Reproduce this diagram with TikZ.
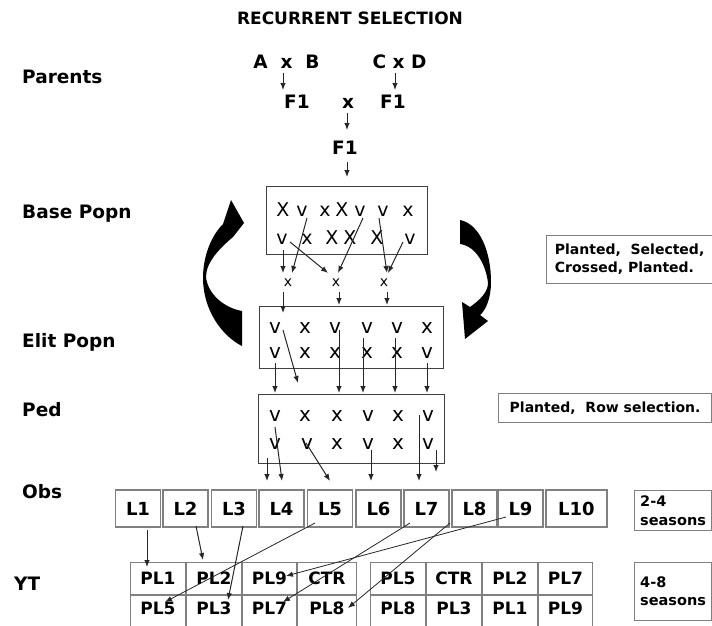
\documentclass[tikz,border=0pt]{standalone}
\usepackage{fontspec}
\setmainfont{DejaVu Sans}
\usetikzlibrary{arrows.meta}
\begin{document}
\begin{tikzpicture}[x=1pt,y=-1pt,
  lbl/.style={font=\fontsize{18.5}{20}\selectfont\bfseries, inner sep=0pt, text height=13.5pt, text depth=0pt},
  ttl/.style={font=\fontsize{17}{19}\selectfont\bfseries, inner sep=0pt, text height=12.4pt, text depth=0pt},
  ltrA/.style={font=\fontsize{19}{21}\selectfont, inner sep=0pt, anchor=base},
  ltrB/.style={font=\fontsize{20}{22}\selectfont, inner sep=0pt, anchor=base},
  smallx/.style={font=\fontsize{14}{16}\selectfont, inner sep=0pt, text height=7.7pt, text depth=0pt},
  popbox/.style={draw=black!75, line width=1pt, rectangle, inner sep=0pt},
  lbox/.style={draw=black!50, line width=1.2pt, rectangle, inner sep=0pt, minimum height=37pt, minimum width=45pt,
     font=\fontsize{18}{20}\selectfont\bfseries, text height=13pt, text depth=0pt},
  plcell/.style={draw=black!50, line width=1.2pt, rectangle, inner sep=0pt,
     font=\fontsize{17}{19}\selectfont\bfseries, text height=12.4pt, text depth=0pt},
  notebox/.style={draw=black!50, line width=1.2pt, rectangle, inner sep=0pt, align=left,
     font=\fontsize{14}{18}\selectfont\bfseries},
  conn/.style={-{Latex[length=7pt,width=5.5pt]}, line width=1pt, black!85},
  thin/.style={-{Latex[length=7pt,width=5.5pt]}, line width=0.8pt, black!85}
]
\useasboundingbox (0,0) rectangle (712,626);
\clip (0,0) rectangle (712,626);

% title and left labels
\node[ttl] (title) at (350,18) {RECURRENT SELECTION};
\node[lbl,anchor=west] (lpar) at (22,77) {Parents};
\node[lbl,anchor=west] (lbase) at (22,212) {Base Popn};
\node[lbl,anchor=west] (lelit) at (22,341) {Elit Popn};
\node[lbl,anchor=west] (lped) at (22,410) {Ped};
\node[lbl,anchor=west] (lobs) at (22,492) {Obs};
\node[lbl,anchor=west] (lyt) at (14,584) {YT};

% parents
\node[lbl] (ab) at (286.5,62) {A\ \ x\ \ B};
\node[lbl] (cd) at (399.5,62) {C x D};
\node[lbl] (f1a) at (297,102) {F1};
\node[lbl] (xx) at (348,102) {x};
\node[lbl] (f1b) at (393,102) {F1};
\node[lbl] (f1c) at (345,148) {F1};

% population boxes
\node[popbox, minimum width=161pt, minimum height=68pt] (base) at (346.5,220) {};
\node[popbox, minimum width=184pt, minimum height=62pt] (elit) at (351,337) {};
\node[popbox, minimum width=186pt, minimum height=69pt] (ped) at (351,428.5) {};

% base letters
\node[ltrA] (ba1) at (283,216) {X};
\node[ltrA] (ba2) at (302,216) {v};
\node[ltrA] (ba3) at (325,216) {x};
\node[ltrA] (ba4) at (342,216) {X};
\node[ltrA] (ba5) at (360,216) {v};
\node[ltrA] (ba6) at (383,216) {v};
\node[ltrA] (ba7) at (408,216) {x};
\node[ltrA] (bb1) at (282,244) {v};
\node[ltrA] (bb2) at (307,244) {x};
\node[ltrA] (bb3) at (332,244) {X};
\node[ltrA] (bb4) at (350,244) {X};
\node[ltrA] (bb5) at (377,244) {X};
\node[ltrA] (bb6) at (410,244) {v};

% small crosses
\node[smallx] (c1) at (288,283) {x};
\node[smallx] (c2) at (336,283) {x};
\node[smallx] (c3) at (384,283) {x};

% elit letters
\node[ltrB] (ea1) at (275,333) {v};
\node[ltrB] (ea2) at (305,333) {x};
\node[ltrB] (ea3) at (335,333) {v};
\node[ltrB] (ea4) at (367,333) {v};
\node[ltrB] (ea5) at (397,333) {v};
\node[ltrB] (ea6) at (427,333) {x};
\node[ltrB] (eb1) at (275,358) {v};
\node[ltrB] (eb2) at (305,358) {x};
\node[ltrB] (eb3) at (335,358) {x};
\node[ltrB] (eb4) at (367,358) {x};
\node[ltrB] (eb5) at (397,358) {x};
\node[ltrB] (eb6) at (427,358) {v};

% ped letters
\node[ltrB] (pa1) at (275,421) {v};
\node[ltrB] (pa2) at (305,421) {x};
\node[ltrB] (pa3) at (337,421) {x};
\node[ltrB] (pa4) at (368,421) {v};
\node[ltrB] (pa5) at (398,421) {x};
\node[ltrB] (pa6) at (428,421) {v};
\node[ltrB] (pb1) at (275,449) {v};
\node[ltrB] (pb2) at (307,449) {v};
\node[ltrB] (pb3) at (337,449) {x};
\node[ltrB] (pb4) at (368,449) {v};
\node[ltrB] (pb5) at (398,449) {x};
\node[ltrB] (pb6) at (428,449) {v};

% notes
\node[notebox, minimum width=166pt, minimum height=48pt, anchor=north west] (n1) at (546,235) {Planted,\ \ Selected,\\Crossed, Planted.};
\node[notebox, minimum width=213pt, minimum height=29pt, anchor=north west] (n2) at (498,393) {Planted,\ \ Row selection.};
\node[notebox, minimum width=77pt, minimum height=40pt, anchor=north west, font=\fontsize{14.5}{19}\selectfont\bfseries] (n3) at (634,490) {2-4\\seasons};
\node[notebox, minimum width=77pt, minimum height=58pt, anchor=north west, font=\fontsize{14.5}{18}\selectfont\bfseries] (n4) at (634,562) {4-8\\seasons};

% observation boxes
\node[lbox] (L1) at (138,508.5) {L1};
\node[lbox] (L2) at (185.5,508.5) {L2};
\node[lbox] (L3) at (234,508.5) {L3};
\node[lbox] (L4) at (281.5,508.5) {L4};
\node[lbox] (L5) at (330,508.5) {L5};
\node[lbox] (L6) at (378.5,508.5) {L6};
\node[lbox] (L7) at (426.5,508.5) {L7};
\node[lbox] (L8) at (474.5,508.5) {L8};
\node[lbox] (L9) at (520.5,508.5) {L9};
\node[lbox, minimum width=61pt] (L10) at (576.5,508.5) {L10};

% yield trial cells
\tikzset{r1/.style={plcell, minimum height=32.5pt}, r2/.style={plcell, minimum height=32pt, text depth=6pt, text height=12pt}}
\node[r1, minimum width=54.5pt] (t11) at (158,578.5) {PL1};
\node[r1, minimum width=54.5pt] (t12) at (214,578.5) {PL2};
\node[r1, minimum width=53.5pt] (t13) at (269.5,578.5) {PL9};
\node[r1, minimum width=58.5pt] (t14) at (327,578.5) {CTR};
\node[r1, minimum width=54.5pt] (t15) at (398,578.5) {PL5};
\node[r1, minimum width=54.5pt] (t16) at (454,578.5) {CTR};
\node[r1, minimum width=54.5pt] (t17) at (510,578.5) {PL2};
\node[r1, minimum width=53.5pt] (t18) at (565.5,578.5) {PL7};
\node[r2, minimum width=54.5pt] (t21) at (158,611) {PL5};
\node[r2, minimum width=54.5pt] (t22) at (214,611) {PL3};
\node[r2, minimum width=53.5pt] (t23) at (269.5,611) {PL7};
\node[r2, minimum width=58.5pt] (t24) at (327,611) {PL8};
\node[r2, minimum width=54.5pt] (t25) at (398,611) {PL8};
\node[r2, minimum width=54.5pt] (t26) at (454,611) {PL3};
\node[r2, minimum width=54.5pt] (t27) at (510,611) {PL1};
\node[r2, minimum width=53.5pt] (t28) at (565.5,611) {PL9};

% curved arrows
\fill[black] (242,346) .. controls (222,336) and (203,310) .. (203,278)
  .. controls (203,255) and (212,235) .. (223,224) -- (231,200) -- (244,223) -- (233,237)
  .. controls (220,248) and (206,262) .. (206,277)
  .. controls (208,295) and (225,308) .. (242,311) -- cycle;
\fill[black] (460,220) .. controls (480,224) and (491,252) .. (491,282)
  .. controls (491,298) and (486,310) .. (480,315) -- (488,321) -- (465,339) -- (462,302) -- (470,307)
  .. controls (480,300) and (488,292) .. (488,283)
  .. controls (486,265) and (476,246) .. (460,244) -- cycle;

% connector end points
\path (283,73) coordinate (p1s) (283,90) coordinate (p1e)
      (395,73) coordinate (p2s) (395,90) coordinate (p2e)
      (347,113) coordinate (p3s) (347,130) coordinate (p3e)
      (347,162) coordinate (p4s) (347,177) coordinate (p4e)
      (283,250) coordinate (b1s) (283,273) coordinate (b1e)
      (307,218) coordinate (b2s) (292,273) coordinate (b2e)
      (290,242) coordinate (b3s) (328,273) coordinate (b3e)
      (363,218) coordinate (b4s) (338,273) coordinate (b4e)
      (379,218) coordinate (b5s) (387,273) coordinate (b5e)
      (403,242) coordinate (b6s) (388,273) coordinate (b6e)
      (283,292) coordinate (x1s) (283,313) coordinate (x1e)
      (339,292) coordinate (x2s) (339,305) coordinate (x2e)
      (387,292) coordinate (x3s) (387,305) coordinate (x3e)
      (283,330) coordinate (e1s) (298,383) coordinate (e1e)
      (275,363) coordinate (e2s) (275,393) coordinate (e2e)
      (339,330) coordinate (e3s) (339,393) coordinate (e3e)
      (363,338) coordinate (e4s) (363,393) coordinate (e4e)
      (395,338) coordinate (e5s) (395,393) coordinate (e5e)
      (427,363) coordinate (e6s) (427,393) coordinate (e6e)
      (267,458) coordinate (d1s) (267,481) coordinate (d1e)
      (275,427) coordinate (d2s) (282,481) coordinate (d2e)
      (306,443) coordinate (d3s) (330,481) coordinate (d3e)
      (371,450) coordinate (d4s) (371,481) coordinate (d4e)
      (419,415) coordinate (d5s) (419,481) coordinate (d5e)
      (436,450) coordinate (d6s) (436,472) coordinate (d6e)
      (147,530) coordinate (y1s) (147,567) coordinate (y1e)
      (196,526) coordinate (y2s) (203,560) coordinate (y2e)
      (243,526) coordinate (y3s) (228,600) coordinate (y3e)
      (315,523) coordinate (y4s) (165,602) coordinate (y4e)
      (410,523) coordinate (y5s) (283,602) coordinate (y5e)
      (450,523) coordinate (y6s) (348,608) coordinate (y6e)
      (506,517) coordinate (y7s) (286,576) coordinate (y7e);

\foreach \a in {p1,p2,p3,p4,b1,b2,b3,b4,b5,b6,x1,x2,x3,e1,e2,e3,e4,e5,e6,d1,d2,d3,d4,d5,d6,y1,y2,y3}
  \draw[conn] (\a s) -- (\a e);
\foreach \a in {y4,y5,y6,y7}
  \draw[thin] (\a s) -- (\a e);
\end{tikzpicture}
\end{document}
